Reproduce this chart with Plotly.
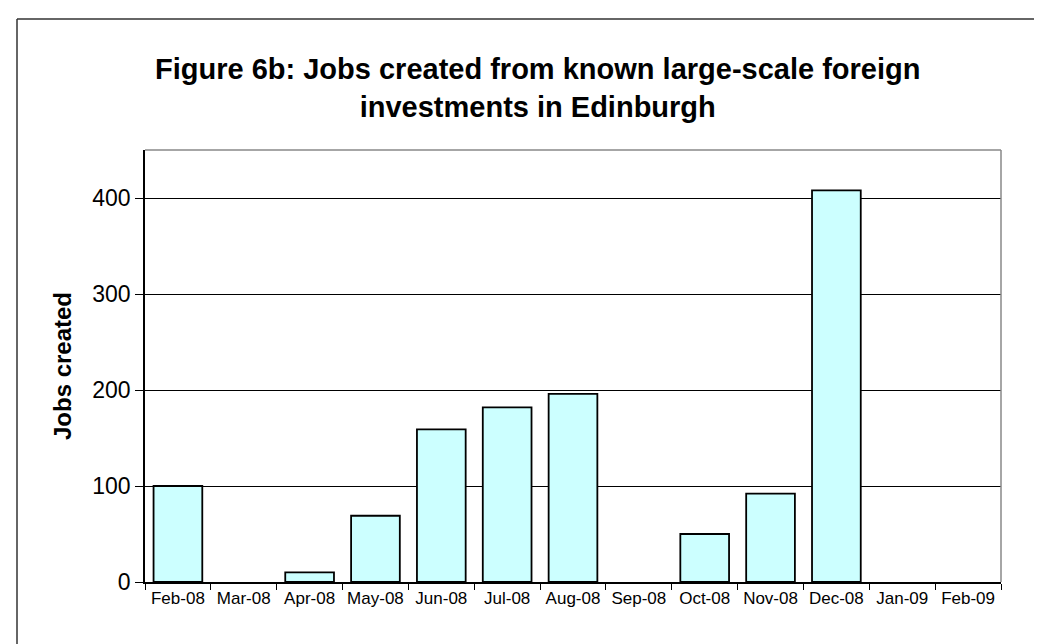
import plotly.graph_objects as go

months = ["Feb-08", "Mar-08", "Apr-08", "May-08", "Jun-08", "Jul-08", "Aug-08",
          "Sep-08", "Oct-08", "Nov-08", "Dec-08", "Jan-09", "Feb-09"]
jobs = [100, None, 10, 69, 159, 182, 196, None, 50, 92, 408, None, None]
y_ticks = [0, 100, 200, 300, 400]

W, H = 1042, 644
L, R, T, B = 137, 49, 142, 70
pw, ph = W - L - R, H - T - B

def px_x(x):
    return (x - L) / pw

def px_y(y):
    return (H - B - y) / ph

FONT = "Liberation Sans, Arial, sans-serif"

fig = go.Figure()
fig.add_trace(go.Bar(
    x=months, y=jobs,
    marker=dict(color="#CCFFFF", line=dict(color="#000000", width=1.8)),
    width=0.74,
))

fig.update_layout(
    width=W, height=H,
    margin=dict(l=L, r=R, t=T, b=B),
    paper_bgcolor="white", plot_bgcolor="white",
    showlegend=False,
    font=dict(family=FONT, color="black"),
    xaxis=dict(
        type="category", categoryorder="array", categoryarray=months,
        tickson="boundaries", ticks="outside", ticklen=6, tickcolor="black",
        tickwidth=1, showline=True, linecolor="black", linewidth=1.5,
        showgrid=False, tickfont=dict(size=17, family=FONT),
        range=[-0.5, len(months) - 0.5],
    ),
    yaxis=dict(
        range=[0, 450], tickvals=y_ticks, ticks="outside", ticklen=8,
        tickcolor="black", showline=True, linecolor="black", linewidth=1.5,
        showgrid=True, gridcolor="black", gridwidth=1, zeroline=False,
        tickfont=dict(size=23, family=FONT),
        title=dict(text="<b>Jobs created</b>", font=dict(size=24, family=FONT), standoff=14),
    ),
    shapes=[
        # plot area border (top/right gray)
        dict(type="line", xref="paper", yref="paper", x0=0, x1=1, y0=1, y1=1,
             line=dict(color="#888888", width=1.5)),
        dict(type="line", xref="paper", yref="paper", x0=1, x1=1, y0=0, y1=1,
             line=dict(color="#888888", width=1.5)),
        # outer chart border (left and top visible)
        dict(type="line", xref="paper", yref="paper", x0=px_x(9), x1=px_x(9),
             y0=px_y(660), y1=px_y(11), line=dict(color="#333333", width=1.5)),
        dict(type="line", xref="paper", yref="paper", x0=px_x(9), x1=px_x(1060),
             y0=px_y(11), y1=px_y(11), line=dict(color="#333333", width=1.5)),
    ],
    annotations=[
        dict(text="<b>Figure 6b: Jobs created from known large-scale foreign<br>investments in Edinburgh</b>",
             xref="paper", yref="paper", x=px_x(529), y=px_y(43),
             xanchor="center", yanchor="top", showarrow=False,
             font=dict(size=29, family=FONT, color="black")),
    ],
)

fig.write_html("out.html")
